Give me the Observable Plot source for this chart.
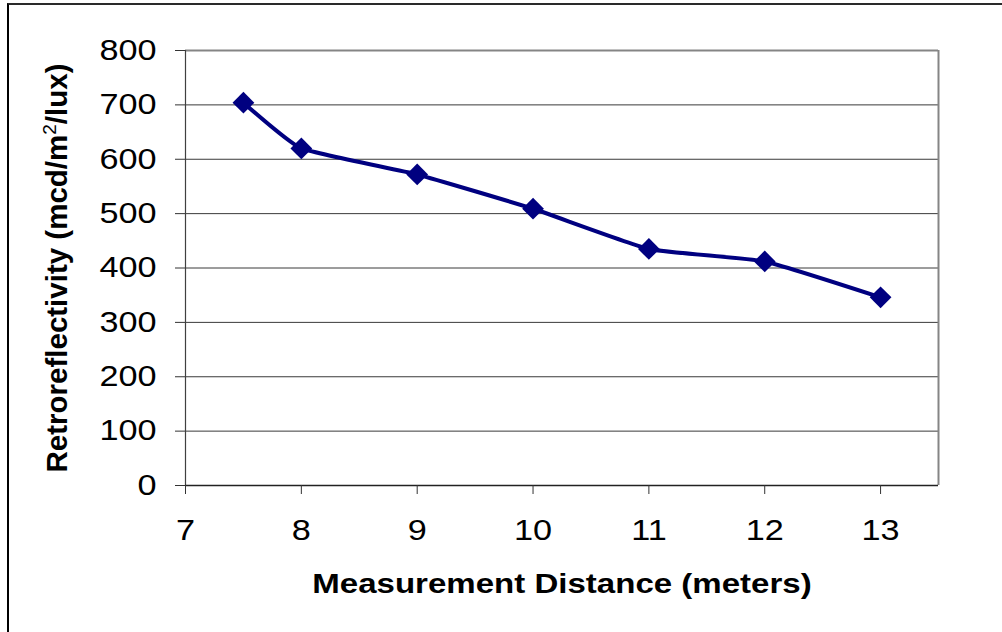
<!DOCTYPE html>
<html><head><meta charset="utf-8">
<script src="https://cdn.jsdelivr.net/npm/d3@7"></script>
<script src="https://cdn.jsdelivr.net/npm/@observablehq/plot@0.6"></script>
<style>
html,body{margin:0;padding:0;background:#fff;}
#wrap{position:relative;width:1002px;height:632px;overflow:hidden;}
#border{position:absolute;left:7px;top:3px;right:-4px;bottom:-4px;border-left:2px solid #000;border-top:2px solid #2a2a2a;pointer-events:none;}
</style></head><body>
<div id="wrap"><div id="chart"></div><div id="border"></div></div>
<script>
const distance = [7.5, 8, 9, 10, 11, 12, 13];
const retroreflectivity = [704, 620, 572, 509, 435, 412, 346];
const xTicks = [7, 8, 9, 10, 11, 12, 13];
const yTicks = [0, 100, 200, 300, 400, 500, 600, 700, 800];
const xTitle = "Measurement Distance (meters)";
const yTitle = "Retroreflectivity (mcd/m²/lux)";
const xDomain = [7, 13.5];
const yDomain = [0, 800];

const data = distance.map((d, i) => ({distance: d, value: retroreflectivity[i]}));
const navy = "#000080";

const chart = Plot.plot({
  width: 1002, height: 632,
  marginLeft: 185, marginRight: 64, marginTop: 50, marginBottom: 147,
  style: {fontFamily: "'Liberation Sans', Arial, sans-serif", fontSize: "29px", color: "#000", background: "#fff", overflow: "visible"},
  x: {domain: xDomain},
  y: {domain: yDomain},
  marks: [
    Plot.ruleY(yTicks.filter(v => v > yDomain[0] && v < yDomain[1]), {stroke: "#3a3a3a", strokeWidth: 1}),
    Plot.ruleY([yDomain[1]], {stroke: "#858585", strokeWidth: 2}),
    Plot.ruleX([xDomain[1]], {stroke: "#858585", strokeWidth: 2}),
    Plot.ruleX([xDomain[0]], {stroke: "#404040", strokeWidth: 1.2}),
    Plot.ruleY([yDomain[0]], {stroke: "#222", strokeWidth: 1.5}),
    Plot.axisY({ticks: yTicks, tickSize: 10, tickPadding: 19, label: null, tickFormat: d => String(d), stroke: "#333", fontSize: 29}),
    Plot.axisX({ticks: xTicks, tickSize: 9, tickPadding: 25, label: null, tickFormat: d => String(d), stroke: "#333", fontSize: 29}),
    Plot.line(data, {x: "distance", y: "value", curve: "cardinal", tension: 0.6, stroke: navy, strokeWidth: 4}),
    Plot.dot(data, {x: "distance", y: "value", symbol: "diamond2", r: 9.8, fill: navy, stroke: "none"}),
    Plot.text([xTitle], {text: d => d, frameAnchor: "bottom", textAnchor: "middle", lineAnchor: "top", dy: 88, fontWeight: "bold", fontSize: 28}),
    Plot.text([yTitle], {text: d => d, frameAnchor: "left", textAnchor: "middle", lineAnchor: "bottom", rotate: -90, dx: -119, fontWeight: "bold", fontSize: 29.5})
  ]
});

document.getElementById("chart").appendChild(chart);

// horizontal text in the reference is slightly stretched; widen glyphs
const sx = 1.18;
chart.querySelectorAll("text").forEach(t => {
  if (t.textContent === yTitle) {
    // render the "2" as a real superscript
    const [before, after] = yTitle.split("²");
    t.textContent = "";
    const ns = "http://www.w3.org/2000/svg";
    const a = document.createElementNS(ns, "tspan"); a.textContent = before;
    const s = document.createElementNS(ns, "tspan"); s.textContent = "2";
    s.setAttribute("font-size", "19"); s.setAttribute("font-weight", "normal"); s.setAttribute("dy", "-11");
    const b = document.createElementNS(ns, "tspan"); b.textContent = after; b.setAttribute("dy", "11");
    t.append(a, s, b);
    return;
  }
  const len = t.getComputedTextLength();
  if (len > 0) {
    t.setAttribute("textLength", (len * sx).toFixed(2));
    t.setAttribute("lengthAdjust", "spacingAndGlyphs");
  }
});
</script>
</body></html>
